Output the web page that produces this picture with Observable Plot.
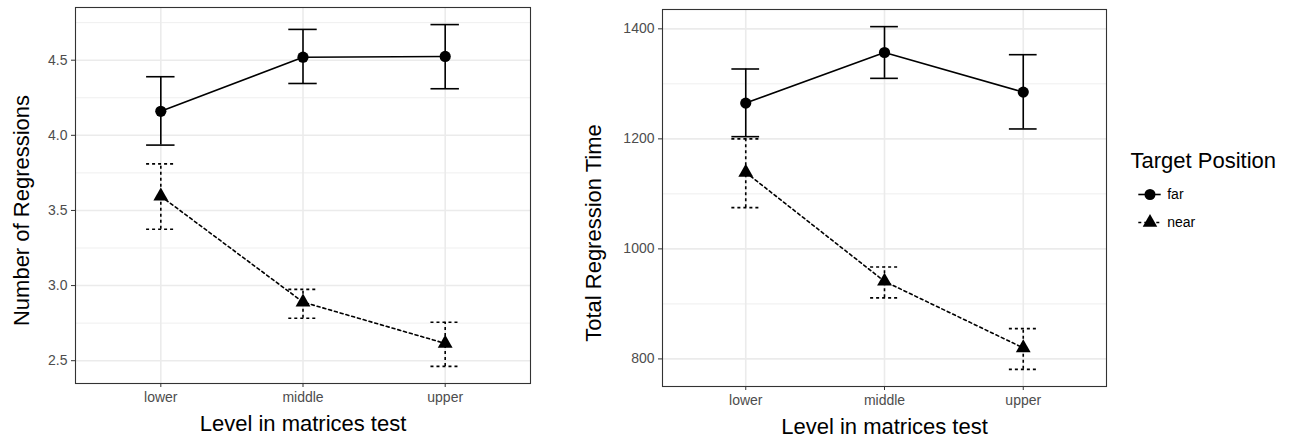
<!DOCTYPE html>
<html>
<head>
<meta charset="utf-8">
<script src="https://cdn.jsdelivr.net/npm/d3@7"></script>
<script src="https://cdn.jsdelivr.net/npm/@observablehq/plot@0.6"></script>
<style>
  body { margin: 0; background: #fff; }
  #chart { position: relative; width: 1294px; height: 443px; background: #fff;
           font-family: "Liberation Sans", Arial, Helvetica, sans-serif; }
  #chart > svg { position: absolute; top: 0; }
</style>
</head>
<body>
<div id="chart"></div>
<script>
// Matrices-test levels and target positions
const levels = ["lower", "middle", "upper"];
const positions = ["far", "near"];

// Number of regressions: means with error-bar bounds
const countFar = [4.16, 4.52, 4.525];
const countFarLow = [3.935, 4.345, 4.31];
const countFarHigh = [4.39, 4.705, 4.737];
const countNear = [3.595, 2.89, 2.615];
const countNearLow = [3.375, 2.783, 2.462];
const countNearHigh = [3.81, 2.975, 2.756];
const countTicks = [2.5, 3.0, 3.5, 4.0, 4.5];

// Total regression time: means with error-bar bounds
const timeFar = [1265, 1357, 1285];
const timeFarLow = [1204, 1310, 1218];
const timeFarHigh = [1327, 1404, 1353];
const timeNear = [1139, 941, 820];
const timeNearLow = [1075, 911, 781];
const timeNearHigh = [1200, 967, 855];
const timeTicks = [800, 1000, 1200, 1400];

const FONT = "'Liberation Sans', Arial, Helvetica, sans-serif";

function seriesRows(pos, mean, low, high) {
  return levels.map((level, i) => ({level, x: i + 1, pos, mean: mean[i], lo: low[i], hi: high[i]}));
}

function panel({far, near, ticks, tickFormat, title, width, marginLeft, marginRight, marginTop, marginBottom, titleDx, titleDy}) {
  const all = far.concat(near);
  const lo = d3.min(all, d => d.lo), hi = d3.max(all, d => d.hi);
  const pad = (hi - lo) * 0.05;
  const domain = [lo - pad, hi + pad];
  const step = ticks[1] - ticks[0];
  const minor = d3.range(ticks[0] - step / 2, domain[1], step).filter(v => v > domain[0]);
  const xs = levels.map((_, i) => i + 1);
  const capW = 0.1;
  const errMarks = (rows, dash) => [
    Plot.ruleX(rows, {x: "x", y1: "lo", y2: "hi", stroke: "black", strokeWidth: 1.6, strokeDasharray: dash}),
    Plot.ruleY(rows, {y: "hi", x1: d => d.x - capW, x2: d => d.x + capW, stroke: "black", strokeWidth: 1.6, strokeDasharray: dash}),
    Plot.ruleY(rows, {y: "lo", x1: d => d.x - capW, x2: d => d.x + capW, stroke: "black", strokeWidth: 1.6, strokeDasharray: dash})
  ];
  return Plot.plot({
    width, height: 443, marginLeft, marginRight, marginTop, marginBottom,
    style: {fontFamily: FONT, background: "transparent", overflow: "visible"},
    x: {domain: [0.4, 3.6]},
    y: {domain},
    marks: [
      Plot.ruleY(minor, {stroke: "#ebebeb", strokeWidth: 0.8}),
      Plot.ruleY(ticks, {stroke: "#ebebeb", strokeWidth: 1.6}),
      Plot.ruleX(xs, {stroke: "#ebebeb", strokeWidth: 1.6}),
      Plot.axisY(ticks, {tickSize: 4, tickPadding: 4, fontSize: 14, stroke: "#333", fill: "#4d4d4d", tickFormat, label: null}),
      Plot.axisX(xs, {tickSize: 4, tickPadding: 5, fontSize: 14, stroke: "#333", fill: "#4d4d4d", tickFormat: i => levels[i - 1], label: null}),
      Plot.frame({stroke: "#333", strokeWidth: 1.1}),
      ...errMarks(far, null),
      ...errMarks(near, "3,3"),
      Plot.line(far, {x: "x", y: "mean", stroke: "black", strokeWidth: 1.6}),
      Plot.line(near, {x: "x", y: "mean", stroke: "black", strokeWidth: 1.6, strokeDasharray: "3,3"}),
      Plot.dot(far, {x: "x", y: "mean", r: 5.6, fill: "black", symbol: "circle"}),
      Plot.dot(near, {x: "x", y: "mean", r: 5.5, fill: "black", symbol: "triangle"}),
      Plot.text([title], {text: d => d, frameAnchor: "left", textAnchor: "middle", rotate: -90, dx: titleDx, dy: titleDy, fontSize: 22, fill: "black"}),
      Plot.text(["Level in matrices test"], {text: d => d, frameAnchor: "bottom", textAnchor: "middle", dy: 47, fontSize: 22, fill: "black"})
    ]
  });
}

const chart = document.getElementById("chart");

const left = panel({
  far: seriesRows("far", countFar, countFarLow, countFarHigh),
  near: seriesRows("near", countNear, countNearLow, countNearHigh),
  ticks: countTicks, tickFormat: d3.format(".1f"),
  title: "Number of Regressions",
  width: 545, marginLeft: 75, marginRight: 15, marginTop: 7, marginBottom: 60,
  titleDx: -53.5, titleDy: 15
});
left.style.left = "0px";
chart.appendChild(left);

const right = panel({
  far: seriesRows("far", timeFar, timeFarLow, timeFarHigh),
  near: seriesRows("near", timeNear, timeNearLow, timeNearHigh),
  ticks: timeTicks, tickFormat: d3.format("d"),
  title: "Total Regression Time",
  width: 520, marginLeft: 62, marginRight: 14, marginTop: 9, marginBottom: 57,
  titleDx: -69, titleDy: 35
});
right.style.left = "600px";
chart.appendChild(right);

// Legend: key line + symbol per target position
const farKey = [{pos: "far"}];
const nearKey = [{pos: "near"}];
const legend = Plot.plot({
  width: 174, height: 110, margin: 0,
  style: {fontFamily: FONT, background: "transparent", overflow: "visible"},
  x: {domain: [0, 1], range: [18.3, 40.7], axis: null},
  y: {type: "point", domain: positions, range: [54, 82.7], padding: 0, axis: null},
  marks: [
    Plot.text(["Target Position"], {text: d => d, frameAnchor: "top-left", dx: 10, dy: 11.5, lineAnchor: "top", textAnchor: "start", fontSize: 22, fill: "black"}),
    Plot.ruleY(farKey, {y: "pos", x1: 0, x2: 1, stroke: "black", strokeWidth: 1.6}),
    Plot.ruleY(nearKey, {y: "pos", x1: 0, x2: 1, stroke: "black", strokeWidth: 1.6, strokeDasharray: "3,3"}),
    Plot.dot(farKey, {x: 0.5, y: "pos", r: 5.5, fill: "black", symbol: "circle"}),
    Plot.dot(nearKey, {x: 0.5, y: "pos", r: 5.4, fill: "black", symbol: "triangle"}),
    Plot.text(positions, {text: d => d, x: 1, y: d => d, dx: 6, textAnchor: "start", fontSize: 14, fill: "black"})
  ]
});
legend.style.left = "1120px";
legend.style.top = "140px";
chart.appendChild(legend);
</script>
</body>
</html>
